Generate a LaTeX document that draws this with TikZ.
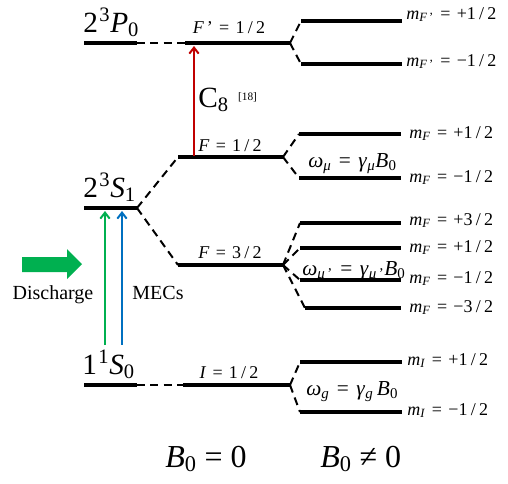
\documentclass[tikz,border=0pt]{standalone}
\usepackage{fontspec}
\setmainfont{Liberation Serif}
\usepackage{xcolor}
\usetikzlibrary{arrows.meta,positioning}
\definecolor{trred}{RGB}{192,0,0}
\definecolor{trgreen}{RGB}{0,176,80}
\definecolor{trblue}{RGB}{0,112,192}
\newcommand{\fsterm}{\fontsize{22}{24}\selectfont}
\newcommand{\fsbig}{\fontsize{24}{26}\selectfont}
\newcommand{\fsom}{\fontsize{16}{18}\selectfont}
\newcommand{\fstxt}{\fontsize{15}{17}\selectfont}
\newcommand{\fsm}{\fontsize{13.5}{15}\selectfont}
\newcommand{\fsref}{\fontsize{8.5}{9}\selectfont}
\newcommand{\iv}[1]{\textit{#1}}
\newcommand{\lo}[1]{\textsubscript{#1}}
\newcommand{\hi}[1]{\textsuperscript{#1}}
\newcommand{\eqs}{\hspace{0.35em}=\hspace{0.35em}}
\newcommand{\eqb}{\hspace{0.25em}=\hspace{0.25em}}
\newcommand{\neqs}{\hspace{0.25em}≠\hspace{0.25em}}
\newcommand{\sla}[2]{#1\hspace{0.18em}/\hspace{0.18em}#2}
\tikzset{
  lvl/.style={line width=3.4pt},
  lnk/.style={line width=1.5pt, dash pattern=on 6pt off 4pt},
  trans/.style={line width=1.5pt, -{Straight Barb[length=4.5pt,width=7pt]}},
  termlbl/.style={anchor=base west, font=\fsterm, inner sep=0pt},
  flbl/.style={anchor=base, font=\fsm, inner sep=0pt},
  mlbl/.style={anchor=base west, font=\fsm, inner sep=0pt},
  omlbl/.style={anchor=base west, font=\fsom, inner sep=0pt},
  txtlbl/.style={anchor=base, font=\fstxt, inner sep=0pt}
}

\begin{document}
\begin{tikzpicture}[x=0.75pt, y=-0.75pt]
\useasboundingbox (0,0) rectangle (508,483);

% levels at B0 = 0
\coordinate (P0a) at (84,43);   \coordinate (P0b) at (137,43);
\coordinate (Fpa) at (185,43);  \coordinate (Fpb) at (290,43);
\coordinate (S1a) at (84,208);  \coordinate (S1b) at (137,208);
\coordinate (Fha) at (178,157); \coordinate (Fhb) at (283,157);
\coordinate (Fta) at (178,265); \coordinate (Ftb) at (283,265);
\coordinate (S0a) at (84,385);  \coordinate (S0b) at (137,385);
\coordinate (Ia) at (183,385);  \coordinate (Ib) at (290,385);

% sublevels at B0 != 0
\coordinate (FpPa) at (301,21);  \coordinate (FpPb) at (402,21);
\coordinate (FpMa) at (301,64);  \coordinate (FpMb) at (402,64);
\coordinate (FhPa) at (299,134); \coordinate (FhPb) at (401,134);
\coordinate (FhMa) at (299,178); \coordinate (FhMb) at (401,178);
\coordinate (Ft3a) at (300,223); \coordinate (Ft3b) at (401,223);
\coordinate (Ft1a) at (300,248); \coordinate (Ft1b) at (401,248);
\coordinate (FtMa) at (300,280); \coordinate (FtMb) at (401,280);
\coordinate (FtNa) at (305,308); \coordinate (FtNb) at (401,308);
\coordinate (IPa) at (300,362);  \coordinate (IPb) at (402,362);
\coordinate (IMa) at (300,412);  \coordinate (IMb) at (402,412);

\draw[lvl] (P0a) -- (P0b);
\draw[lvl] (Fpa) -- (Fpb);
\draw[lvl] (S1a) -- (S1b);
\draw[lvl] (Fha) -- (Fhb);
\draw[lvl] (Fta) -- (Ftb);
\draw[lvl] (S0a) -- (S0b);
\draw[lvl] (Ia) -- (Ib);
\draw[lvl] (FpPa) -- (FpPb);
\draw[lvl] (FpMa) -- (FpMb);
\draw[lvl] (FhPa) -- (FhPb);
\draw[lvl] (FhMa) -- (FhMb);
\draw[lvl] (Ft3a) -- (Ft3b);
\draw[lvl] (Ft1a) -- (Ft1b);
\draw[lvl] (FtMa) -- (FtMb);
\draw[lvl] (FtNa) -- (FtNb);
\draw[lvl] (IPa) -- (IPb);
\draw[lvl] (IMa) -- (IMb);

% dashed links
\draw[lnk] (P0b) -- (Fpa);
\draw[lnk] (S1b) -- (Fha);
\draw[lnk] (S1b) -- (Fta);
\draw[lnk] (S0b) -- (Ia);
\draw[lnk] (Fpb) -- (FpPa);
\draw[lnk] (Fpb) -- (FpMa);
\draw[lnk] (Fhb) -- (FhPa);
\draw[lnk] (Fhb) -- (FhMa);
\draw[lnk] (Ftb) -- (Ft3a);
\draw[lnk] (Ftb) -- (Ft1a);
\draw[lnk] (Ftb) -- (FtMa);
\draw[lnk] (Ftb) -- (FtNa);
\draw[lnk] (Ib) -- (IPa);
\draw[lnk] (Ib) -- (IMa);

% term labels
\node[termlbl] (tP0) at (83,32) {2\hspace{0.05em}\hi{3}\iv{P}\lo{0}};
\node[termlbl] (tS1) at (83,197) {2\hspace{0.05em}\hi{3}\iv{S}\lo{1}};
\node[termlbl] (tS0) at (82,374) {1\hspace{0.05em}\hi{1}\iv{S}\lo{0}};
\node[flbl] (lFp) at (229,33) {\iv{F}\,'\eqs\sla{1}{2}};
\node[flbl] (lFh) at (230,151) {\iv{F}\eqs\sla{1}{2}};
\node[flbl] (lFt) at (230,258) {\iv{F}\eqs\sla{3}{2}};
\node[flbl] (lI) at (229,378) {\iv{I}\eqs\sla{1}{2}};

% sublevel labels
\node[mlbl] (mFpP) at (406,19) {\iv{m}\lo{\iv{F}\,'}\eqs+\sla{1}{2}};
\node[mlbl] (mFpM) at (406,66) {\iv{m}\lo{\iv{F}\,'}\eqs−\sla{1}{2}};
\node[mlbl] (mFhP) at (409,138) {\iv{m}\lo{\iv{F}}\eqs+\sla{1}{2}};
\node[mlbl] (mFhM) at (409,182) {\iv{m}\lo{\iv{F}}\eqs−\sla{1}{2}};
\node[mlbl] (mFt3) at (409,225) {\iv{m}\lo{\iv{F}}\eqs+\sla{3}{2}};
\node[mlbl] (mFt1) at (409,252) {\iv{m}\lo{\iv{F}}\eqs+\sla{1}{2}};
\node[mlbl] (mFtM) at (409,283) {\iv{m}\lo{\iv{F}}\eqs−\sla{1}{2}};
\node[mlbl] (mFtN) at (409,312) {\iv{m}\lo{\iv{F}}\eqs−\sla{3}{2}};
\node[mlbl] (mIP) at (407,365) {\iv{m}\lo{\iv{I}}\eqs+\sla{1}{2}};
\node[mlbl] (mIM) at (407,415) {\iv{m}\lo{\iv{I}}\eqs−\sla{1}{2}};

\node[omlbl] (wmu) at (308,167) {\iv{ω}\lo{\iv{μ}}\eqs\iv{γ}\lo{\iv{μ}}\iv{B}\lo{0}};
\node[omlbl] (wmup) at (302,275) {\iv{ω}\lo{\iv{μ}\,'}\eqs\iv{γ}\lo{\iv{μ}\,'}\iv{B}\lo{0}};
\node[omlbl] (wg) at (306,395) {\iv{ω}\lo{\iv{g}}\eqs\iv{γ}\lo{\iv{g}}\,\iv{B}\lo{0}};

% transitions
\coordinate (rS) at (194,156); \coordinate (rT) at (194,46);
\coordinate (gS) at (105,345); \coordinate (gT) at (105,211);
\coordinate (bS) at (122,211); \coordinate (bT) at (122,345);
\draw[trans, trred] (rS) -- (rT);
\draw[trans, trgreen] (gS) -- (gT);
\draw[trans, trblue, {Straight Barb[length=4.5pt,width=7pt]}-] (bS) -- (bT);
\node[anchor=base west, font=\fsterm, inner sep=0pt] (c8) at (198,107)
  {C\lo{8}\hspace{7pt}\raisebox{5pt}{\fsref[18]}};

% discharge
\fill[trgreen] (22,257) -- (67,257) -- (67,249) -- (82,264) -- (67,279)
  -- (67,272) -- (22,272) -- cycle;
\node[txtlbl] (dis) at (53,299) {Discharge};
\node[txtlbl] (mec) at (158,299) {MECs};

% field labels
\node[anchor=base west, font=\fsbig, inner sep=0pt] (bz) at (165,467) {\iv{B}\lo{0}\eqb0};
\node[anchor=base west, font=\fsbig, inner sep=0pt] (bn) at (320,467) {\iv{B}\lo{0}\neqs0};
\end{tikzpicture}
\end{document}
